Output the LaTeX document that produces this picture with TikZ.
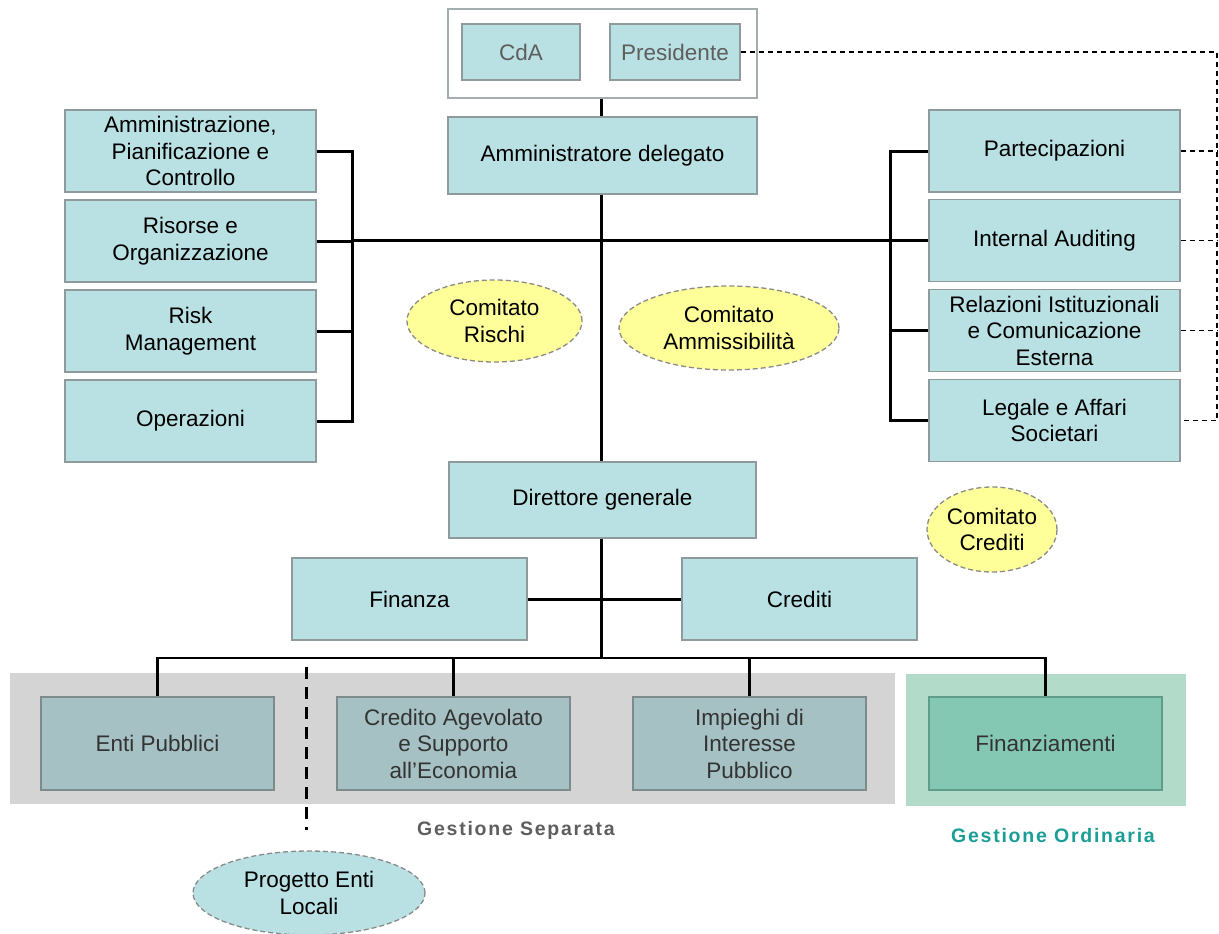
\documentclass[tikz,border=0pt]{standalone}
\usepackage{fontspec}
\setmainfont{Liberation Sans}
\usetikzlibrary{shapes.geometric}
\definecolor{boxfill}{HTML}{B9E0E2}
\definecolor{boxline}{HTML}{8E9A9B}
\definecolor{lowfill}{HTML}{A6C1C3}
\definecolor{lowline}{HTML}{7D8B8C}
\definecolor{graybg}{HTML}{D4D4D4}
\definecolor{greenbg}{HTML}{B2DCC9}
\definecolor{finfill}{HTML}{84C7B2}
\definecolor{finline}{HTML}{5F9C89}
\definecolor{yell}{HTML}{FFFF99}
\definecolor{ellline}{HTML}{8A8A8A}
\definecolor{txtgray}{HTML}{5E5E5E}
\definecolor{txtdark}{HTML}{333333}
\definecolor{teal}{HTML}{1A9E96}
\newcommand{\bxfont}{\fontsize{22.5}{26.5}\selectfont}
\newcommand{\lblfont}{\fontsize{19.5}{22}\selectfont\bfseries\addfontfeatures{LetterSpace=9}}
\tikzset{
  orgbox/.style={draw=boxline, line width=1.2pt, fill=boxfill, align=center,
    font=\bxfont, text=black, inner sep=0pt, minimum width=251pt, minimum height=82pt},
  lowbox/.style={orgbox, fill=lowfill, draw=lowline, text=txtdark, minimum width=233pt, minimum height=93pt},
  committee/.style={ellipse, draw=ellline, line width=1.3pt, dash pattern=on 5pt off 3pt,
    fill=yell, align=center, font=\bxfont, inner sep=0pt},
  conn/.style={line width=3pt, black},
  busline/.style={line width=2.2pt, black},
  dotline/.style={line width=1.4pt, black, dash pattern=on 5pt off 4pt},
  band/.style={draw=none, inner sep=0pt}
}
\begin{document}
\begin{tikzpicture}[x=1pt,y=-1pt]
\useasboundingbox[fill=white] (0,0) rectangle (1219,934);
% bands
\node[band, fill=graybg, minimum width=885pt, minimum height=131pt] (gsband) at (452.5,738.5) {};
\node[band, fill=greenbg, minimum width=280pt, minimum height=132pt] (goband) at (1046,740) {};
% top
\node[draw=boxline!80, line width=1.2pt, fill=white, minimum width=309pt, minimum height=89pt, inner sep=0pt] (board) at (602.5,53.5) {};
\node[orgbox, text=txtgray, minimum width=118pt, minimum height=56pt] (cda) at (521,52) {CdA};
\node[orgbox, text=txtgray, minimum width=130pt, minimum height=56pt] (pres) at (675,52) {Presidente};
\node[orgbox, minimum width=309pt, minimum height=77pt] (ad) at (602.5,155.5) {Amministratore delegato};
% left staff
\node[orgbox] (l1) at (190.5,151) {Amministrazione,\\Pianificazione e\\Controllo};
\node[orgbox] (l2) at (190.5,241) {Risorse e\\Organizzazione};
\node[orgbox] (l3) at (190.5,331) {Risk\\Management};
\node[orgbox] (l4) at (190.5,421) {Operazioni};
% right staff
\node[orgbox] (r1) at (1054.5,151) {Partecipazioni};
\node[orgbox] (r2) at (1054.5,240.5) {Internal Auditing};
\node[orgbox] (r3) at (1054.5,330.5) {Relazioni Istituzionali\\e Comunicazione\\Esterna};
\node[orgbox] (r4) at (1054.5,420.5) {Legale e Affari\\Societari};
% committees
\node[committee, minimum width=175pt, minimum height=82pt] (crisk) at (494.5,321) {Comitato\\Rischi};
\node[committee, minimum width=220pt, minimum height=84pt] (camm) at (729,328) {Comitato\\Ammissibilità};
\node[committee, minimum width=130pt, minimum height=85pt] (ccred) at (992,529.5) {Comitato\\Crediti};
% DG
\node[orgbox, minimum width=307pt, minimum height=76pt] (dg) at (602.5,500) {Direttore generale};
\node[orgbox, minimum width=235pt] (fin) at (409.5,599) {Finanza};
\node[orgbox, minimum width=235pt] (cred) at (799.5,599) {Crediti};
% bottom
\node[lowbox] (ep) at (157.5,743.5) {Enti Pubblici};
\node[lowbox] (cag) at (453.5,743.5) {Credito Agevolato\\e Supporto\\all’Economia};
\node[lowbox] (ip) at (749.5,743.5) {Impieghi di\\Interesse\\Pubblico};
\node[lowbox, fill=finfill, draw=finline] (fz) at (1045.5,743.5) {Finanziamenti};
\node[committee, fill=boxfill, minimum width=232pt, minimum height=84pt] (pel) at (309,893) {Progetto Enti\\Locali};
\node[font=\lblfont, text=txtgray] (gslbl) at (516,830) {Gestione Separata};
\node[font=\lblfont, text=teal] (golbl) at (1053,836) {Gestione Ordinaria};
% coordinates
\coordinate (lbx) at (352,240);
\coordinate (rbx) at (890,240);
\coordinate (dashx) at (1217,53);
\coordinate (bus) at (601,658);
\coordinate (dtop) at (306,667);
\coordinate (dbot) at (306,830);
% connectors
\draw[conn] (board.south -| 601,0) -- (ad.north -| 601,0);
\draw[conn] (ad.south -| 601,0) -- (dg.north -| 601,0);
\draw[conn] (lbx) -- (rbx);
\draw[conn] (l1.east) -| (l4.east -| lbx) -- (l4.east);
\draw[conn] (l2.east) -- (l2.east -| lbx);
\draw[conn] (l3.east) -- (l3.east -| lbx);
\draw[conn] (r1.west) -| (r4.west -| rbx) -- (r4.west);
\draw[conn] (r2.west) -- (r2.west -| rbx);
\draw[conn] (r3.west) -- (r3.west -| rbx);
\draw[conn] (dg.south -| bus) -- (bus);
\draw[conn] (fin.east) -- (cred.west);
\draw[busline] (ep.north) |- (bus) -| (fz.north);
\draw[busline] (cag.north) -- (cag.north |- bus);
\draw[busline] (ip.north) -- (ip.north |- bus);
\draw[dotline] (pres.east) -| (r4.east -| dashx) -- (r4.east);
\draw[dotline] (r1.east) -- (r1.east -| dashx);
\draw[dotline] (r2.east) -- (r2.east -| dashx);
\draw[dotline] (r3.east) -- (r3.east -| dashx);
\draw[line width=3pt, dash pattern=on 12pt off 8pt] (dtop) -- (dbot);
\end{tikzpicture}
\end{document}
